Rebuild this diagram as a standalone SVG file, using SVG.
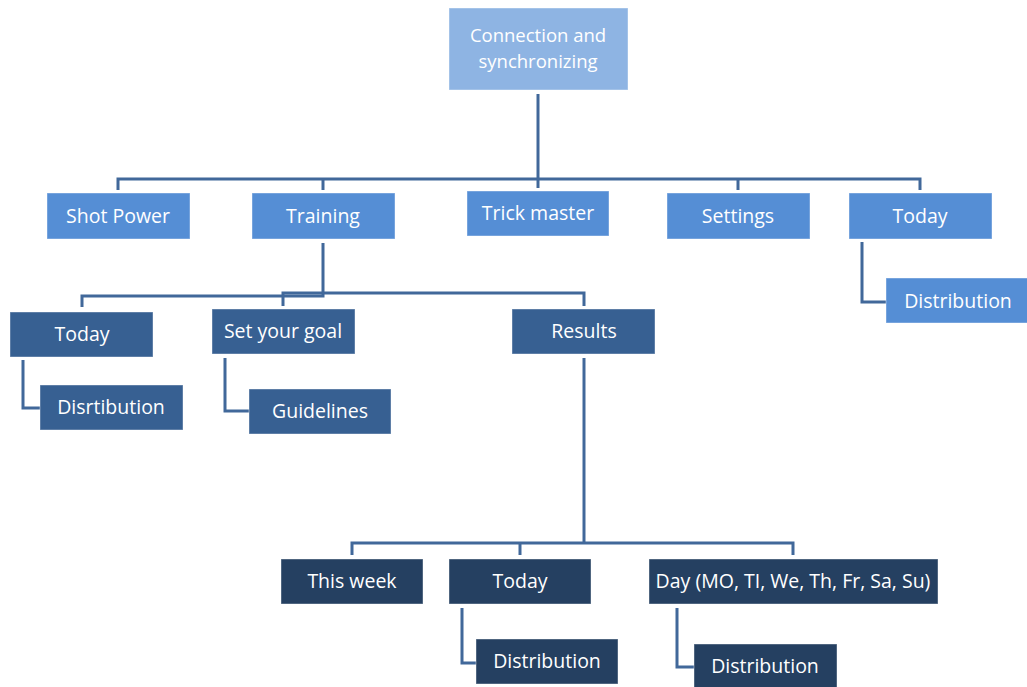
<svg xmlns="http://www.w3.org/2000/svg" width="1027" height="687" viewBox="0 0 1027 687">
<style>
.l1{fill:#8EB4E3}
.l2{fill:#558ED5}
.l3{fill:#376092}
.l4{fill:#254061}
rect{stroke:#ffffff;stroke-opacity:0.4;stroke-width:1}
text{font-family:"Open Sans","Liberation Sans",sans-serif;font-size:19.5px;fill:#ffffff;text-anchor:middle}
.r{font-size:18.5px}
.c{fill:none;stroke:#41689A;stroke-width:3}
</style>
<rect width="1027" height="687" fill="#ffffff" stroke="none"/>
<g id="connectors">
<path class="c" d="M538,94 V188"/>
<path class="c" d="M118,190 V179 H920 V190"/>
<path class="c" d="M323,179 V190"/>
<path class="c" d="M738,179 V190"/>
<path class="c" d="M323,243 V296 H82 V307"/>
<path class="c" d="M283,306 V293 H584 V306"/>
<path class="c" d="M23,360 V408 H40"/>
<path class="c" d="M225,358 V411 H249"/>
<path class="c" d="M862,242 V302 H886"/>
<path class="c" d="M584,358 V543"/>
<path class="c" d="M352,555 V543 H793 V555"/>
<path class="c" d="M520,543 V555"/>
<path class="c" d="M462,608 V663 H476"/>
<path class="c" d="M677,608 V667 H694"/>
</g>
<g id="n-root"><rect class="l1" x="449" y="8" width="179" height="82"/><text class="r" x="538" y="42">Connection and</text><text class="r" x="538" y="67.5">synchronizing</text></g>
<g id="n-shotpower"><rect class="l2" x="47" y="193" width="143" height="46"/><text x="118" y="223">Shot Power</text></g>
<g id="n-training"><rect class="l2" x="252" y="193" width="143" height="46"/><text x="323" y="223">Training</text></g>
<g id="n-trickmaster"><rect class="l2" x="467" y="191" width="142" height="45"/><text x="538" y="220">Trick master</text></g>
<g id="n-settings"><rect class="l2" x="667" y="193" width="143" height="46"/><text x="738" y="223">Settings</text></g>
<g id="n-today1"><rect class="l2" x="849" y="193" width="143" height="46"/><text x="920" y="223">Today</text></g>
<g id="n-dist1"><rect class="l2" x="886" y="278" width="143" height="45"/><text x="958" y="308">Distribution</text></g>
<g id="n-today2"><rect class="l3" x="10" y="312" width="143" height="45"/><text x="82" y="341">Today</text></g>
<g id="n-disrtibution"><rect class="l3" x="40" y="385" width="143" height="45"/><text x="111" y="414">Disrtibution</text></g>
<g id="n-goal"><rect class="l3" x="212" y="309" width="143" height="45"/><text x="283" y="338">Set your goal</text></g>
<g id="n-guidelines"><rect class="l3" x="249" y="389" width="142" height="45"/><text x="320" y="418">Guidelines</text></g>
<g id="n-results"><rect class="l3" x="512" y="309" width="143" height="45"/><text x="584" y="338">Results</text></g>
<g id="n-thisweek"><rect class="l4" x="281" y="559" width="142" height="45"/><text x="352" y="588">This week</text></g>
<g id="n-today3"><rect class="l4" x="449" y="559" width="142" height="45"/><text x="520" y="588">Today</text></g>
<g id="n-day"><rect class="l4" x="649" y="559" width="289" height="45"/><text x="793" y="588">Day (MO, TI, We, Th, Fr, Sa, Su)</text></g>
<g id="n-dist2"><rect class="l4" x="476" y="639" width="142" height="45"/><text x="547" y="668">Distribution</text></g>
<g id="n-dist3"><rect class="l4" x="694" y="644" width="143" height="45"/><text x="765" y="673">Distribution</text></g>
</svg>
